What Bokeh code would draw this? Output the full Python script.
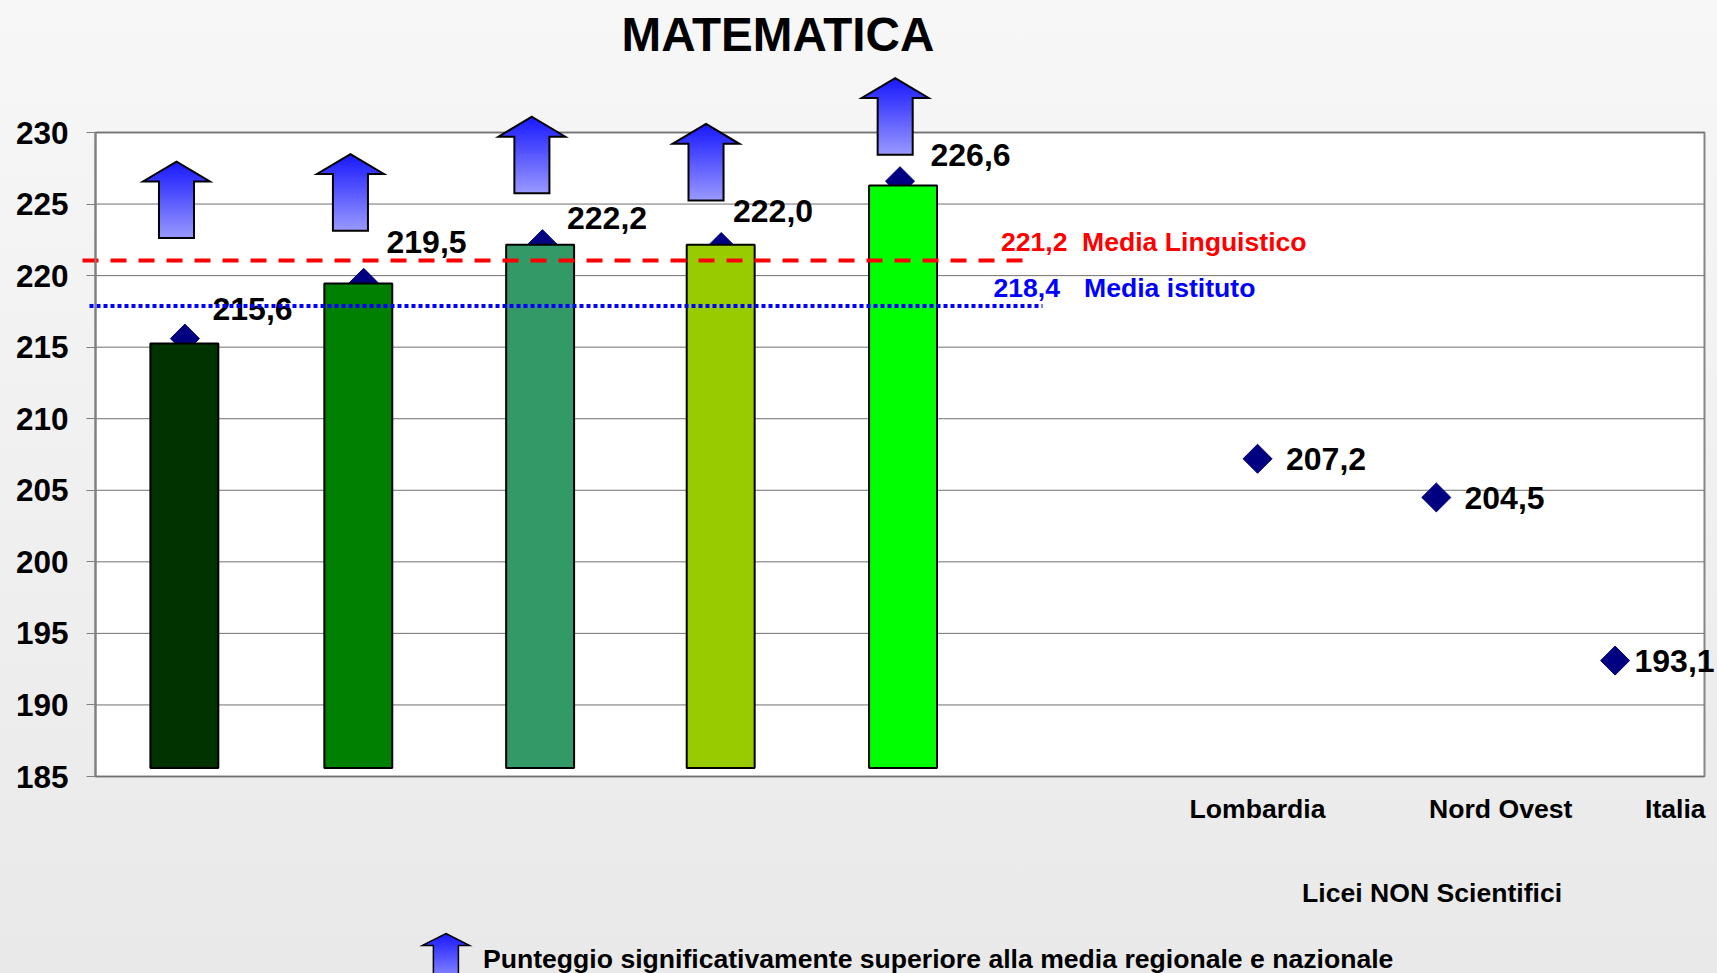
from math import pi
from bokeh.core.properties import value
from bokeh.plotting import figure
from bokeh.models import FixedTicker, Range1d, GlobalInlineStyleSheet
from bokeh.embed import file_html
from bokeh.resources import INLINE

# ---------- data ----------
title = "MATEMATICA"
y_ticks = [185, 190, 195, 200, 205, 210, 215, 220, 225, 230]
marker_pos = [0, 1, 2, 3, 4, 6, 7, 8]
marker_val = [215.6, 219.5, 222.2, 222.0, 226.6, 207.2, 204.5, 193.1]
bar_pos = [-0.003, 0.97, 1.987, 2.997, 4.017]
bar_top = [215.25, 219.45, 222.15, 222.15, 226.3]
bar_base = [185.6, 185.6, 185.6, 185.6, 185.6]
bar_colors = ["#003300", "#008000", "#339966", "#99CC00", "#00FF00"]
arrow_pos = [-0.047, 0.926, 1.941, 2.915, 3.973]
arrow_tip = [227.97, 228.49, 231.1, 230.6, 233.8]
cat_ticks = [6.0, 7.36, 8.337]
cat_labels = ["Lombardia", "Nord Ovest", "Italia"]
media_ling = 221.06
media_ist = 217.87
media_ling_label = "221,2"
media_ist_label = "218,4"

# ---------- layout ----------
FX0, FX1, FY0, FY1 = 95.0, 1704.0, 132.0, 776.0   # plot area on the page
X_UNIT = (FX1 - FX0) / 9
Y_UNIT = (FY1 - FY0) / 45
def dx(px): return (px - FX0) / X_UNIT - 0.5
def dy(py): return 230 - (py - FY0) / Y_UNIT
FONT = value("Liberation Sans")

# The frame is the whole page, so that arrows and lines may leave the plot area.
p = figure(width=1717, height=973, output_backend="svg", toolbar_location=None,
           x_range=Range1d(dx(0), dx(1717)), y_range=Range1d(dy(973), dy(0)),
           min_border=0, background_fill_alpha=0, border_fill_alpha=0)
p.stylesheets = [GlobalInlineStyleSheet(css=(
    "html{height:100%;overflow:hidden;background:linear-gradient(#f7f7f7,#e9e9e9) no-repeat;"
    "background-size:100% 973px} body{background:transparent}"))]
p.outline_line_color = None
p.grid.visible = False

ya = p.yaxis[0]
ya.fixed_location = -0.5
ya.bounds = (185, 230)
ya.ticker = FixedTicker(ticks=y_ticks)
ya.major_tick_out = 9
ya.major_tick_in = 0
ya.minor_tick_out = 0
ya.minor_tick_in = 0
ya.axis_line_color = "#808080"
ya.axis_line_width = 2
ya.major_tick_line_color = "#808080"
ya.major_tick_line_width = 1
ya.major_label_standoff = 18
ya.major_label_text_font = "Liberation Sans"
ya.major_label_text_font_style = "bold"
ya.major_label_text_font_size = "31.5px"
ya.major_label_text_color = "black"

xa = p.xaxis[0]
xa.fixed_location = 185
xa.ticker = FixedTicker(ticks=cat_ticks)
xa.major_label_overrides = dict(zip(cat_ticks, cat_labels))
xa.axis_line_color = None
xa.major_tick_line_color = None
xa.minor_tick_line_color = None
xa.major_tick_out = 0
xa.major_tick_in = 0
xa.major_label_standoff = 17
xa.major_label_text_font = "Liberation Sans"
xa.major_label_text_font_style = "bold"
xa.major_label_text_font_size = "26.6px"
xa.major_label_text_color = "black"
ya.level = "overlay"
xa.level = "overlay"

# plot area and grid
p.quad(left=[-0.5], right=[8.5], bottom=[y_ticks[0]], top=[y_ticks[-1]],
       fill_color="white", line_color="#868686", line_width=2)
p.segment(x0=[-0.5] * 10, x1=[8.5] * 10, y0=y_ticks, y1=y_ticks, line_color="#707070", line_width=1)

# markers lie under the bars
p.scatter(marker_pos, marker_val, marker="square", size=20.5, angle=pi / 4, color="#000080")
p.vbar(x=bar_pos, width=0.38, top=bar_top, bottom=bar_base, fill_color=bar_colors,
       line_color="black", line_width=2)

def text(txt, px, py, size=32, color="black"):
    p.text(x=[dx(px)], y=[dy(py)], text=[txt], text_font=FONT, text_font_style="bold",
           text_font_size=f"{size}px", text_color=color, text_baseline="middle", text_align="left")

def fmt(v): return f"{v:.1f}".replace(".", ",")

label_xy = [(212, 308), (386, 241.5), (566.5, 217.5), (732.5, 210), (930, 154.5),
            (1285.5, 458), (1464, 497), (1634, 660)]
for v, (lx, ly) in zip(marker_val, label_xy):
    text(fmt(v), lx, ly)

text(title, 621, 34, size=47.6)
text(media_ling_label, 1000.5, 241, size=26.6, color="#FF0000")
text("Media Linguistico", 1081.5, 241, size=26.6, color="#FF0000")
text(media_ist_label, 993, 287, size=26.6, color="#0000FF")
text("Media istituto", 1083.5, 287, size=26.6, color="#0000FF")
text("Licei NON Scientifici", 1301.5, 892.5, size=26.6)
text("Punteggio significativamente superiore alla media regionale e nazionale", 482.5, 958, size=26.6)

# reference lines
p.line([dx(82), dx(1022)], [media_ling, media_ling], line_color="#FF0000", line_width=4, line_dash="16 12")
p.line([dx(89), dx(1042)], [media_ist, media_ist], line_color="#0000FF", line_width=4, line_dash="4 3")

def lerp(t):
    a, b = (0x18, 0x18, 0xFF), (0x99, 0x99, 0xFF)
    return "#%02x%02x%02x" % tuple(round(a[i] + (b[i] - a[i]) * t) for i in range(3))

def up_arrow(cx, tip, head_h, total_h, head_w, shaft_w, lw=2, n=32):
    """Gradient block arrow, cx in category units, heights in value units.
    Each band is painted from its top to the arrow's foot, so no seams show."""
    for i in range(n):
        d = total_h * i / n
        c = lerp((i + .5) / n)
        if d < head_h:
            w = head_w * d / head_h
            xs = [cx - w, cx + w, cx + head_w, cx + shaft_w, cx + shaft_w, cx - shaft_w, cx - shaft_w, cx - head_w]
            ys = [tip - d, tip - d, tip - head_h, tip - head_h, tip - total_h, tip - total_h, tip - head_h, tip - head_h]
        else:
            xs = [cx - shaft_w, cx + shaft_w, cx + shaft_w, cx - shaft_w]
            ys = [tip - d, tip - d, tip - total_h, tip - total_h]
        p.patch(xs, ys, fill_color=c, line_color=None)
    p.patch([cx, cx + head_w, cx + shaft_w, cx + shaft_w, cx - shaft_w, cx - shaft_w, cx - head_w],
            [tip, tip - head_h, tip - head_h, tip - total_h, tip - total_h, tip - head_h, tip - head_h],
            fill_alpha=0, line_color="black", line_width=lw, line_join="miter")

for c, t in zip(arrow_pos, arrow_tip):
    up_arrow(c, t, 1.39, 5.35, 0.187, 0.098)

# legend arrow
up_arrow(dx(445.4), dy(933), 0.84, 3.6, 0.132, 0.07, lw=1.5)

open("out.html", "w").write(file_html(p, INLINE))
